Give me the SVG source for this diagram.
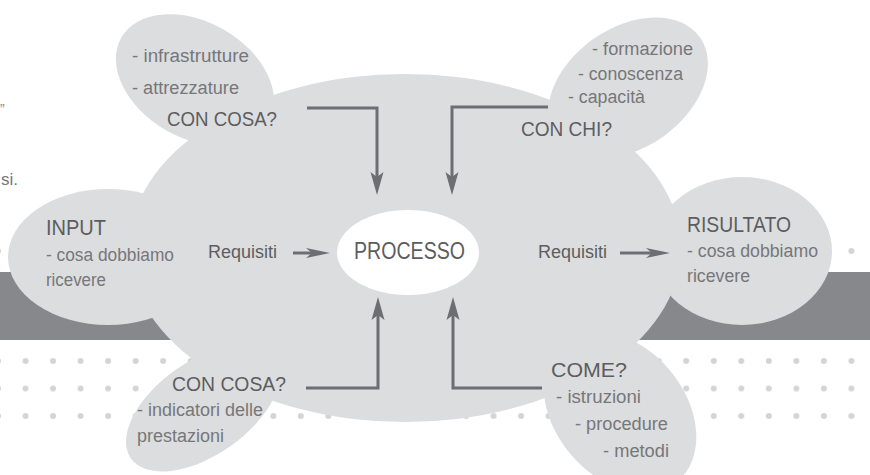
<svg xmlns="http://www.w3.org/2000/svg" width="870" height="475" viewBox="0 0 870 475">
<style>
text{font-family:"Liberation Sans",Arial,sans-serif}
.g{fill:#dcdddf}
.h{font-size:20.5px;fill:#5c5d60}
.i{font-size:18px;fill:#76777a}
.r{font-size:18px;fill:#5c5d60}
.p{font-size:23px;fill:#5c5d60}
.c{fill:none;stroke:#6d6e71;stroke-width:3}
</style>
<defs>
<pattern id="dots" patternUnits="userSpaceOnUse" x="-15.76" y="237.25" width="27.53" height="27.5">
<circle cx="13.76" cy="13.75" r="3" fill="#d3d4d6"/>
</pattern>
<marker id="av" viewBox="-24 -7 25 14" refX="-18" refY="0" markerWidth="25" markerHeight="14" markerUnits="userSpaceOnUse" orient="auto">
<path d="M0,0 L-23,-6.5 L-18,0 L-23,6.5 Z" fill="#6d6e71"/>
</marker>
<marker id="as" viewBox="-24 -6 25 12" refX="-18" refY="0" markerWidth="25" markerHeight="12" markerUnits="userSpaceOnUse" orient="auto">
<path d="M0,0 L-24,-5 L-18,0 L-24,5 Z" fill="#6d6e71"/>
</marker>
</defs>
<rect width="870" height="475" fill="#ffffff"/>
<g id="background">
<rect x="0" y="272" width="870" height="68" fill="#87888c"/>
<rect x="0" y="245" width="870" height="12" fill="url(#dots)"/>
<rect x="0" y="355" width="870" height="69" fill="url(#dots)"/>
<text x="0" y="114" style="font-size:14px;fill:#8a8b8e">”</text>
<text x="1" y="185" style="font-size:17px;fill:#76777a">si.</text>
</g>
<g id="processo-area">
<ellipse class="g" cx="405" cy="248" rx="276" ry="174"/>
</g>
<g id="con-cosa-top">
<ellipse class="g" cx="195" cy="80" rx="85" ry="58" transform="rotate(30 195 80)"/>
<text class="i" x="132" y="62" textLength="117" lengthAdjust="spacingAndGlyphs">- infrastrutture</text>
<text class="i" x="132" y="94" textLength="107" lengthAdjust="spacingAndGlyphs">- attrezzature</text>
<text class="h" x="167" y="126" textLength="110" lengthAdjust="spacingAndGlyphs">CON COSA?</text>
</g>
<g id="con-chi">
<ellipse class="g" cx="628" cy="88" rx="88" ry="60" transform="rotate(-35 628 88)"/>
<text class="i" x="592" y="55" textLength="101" lengthAdjust="spacingAndGlyphs">- formazione</text>
<text class="i" x="578" y="80" textLength="105" lengthAdjust="spacingAndGlyphs">- conoscenza</text>
<text class="i" x="568" y="103" textLength="77" lengthAdjust="spacingAndGlyphs">- capacità</text>
<text class="h" x="521" y="136" textLength="91" lengthAdjust="spacingAndGlyphs">CON CHI?</text>
</g>
<g id="input">
<ellipse class="g" cx="108" cy="257" rx="100" ry="68"/>
<text class="h" x="46" y="235" textLength="60" lengthAdjust="spacingAndGlyphs" style="font-size:21.5px">INPUT</text>
<text class="i" x="46" y="261" textLength="128" lengthAdjust="spacingAndGlyphs">- cosa dobbiamo</text>
<text class="i" x="46" y="286" textLength="60" lengthAdjust="spacingAndGlyphs">ricevere</text>
</g>
<g id="risultato">
<ellipse class="g" cx="742" cy="251" rx="90" ry="74"/>
<text class="h" x="687" y="232" textLength="104" lengthAdjust="spacingAndGlyphs" style="font-size:21.5px">RISULTATO</text>
<text class="i" x="687" y="257" textLength="131" lengthAdjust="spacingAndGlyphs">- cosa dobbiamo</text>
<text class="i" x="687" y="282" textLength="63" lengthAdjust="spacingAndGlyphs">ricevere</text>
</g>
<g id="con-cosa-bottom">
<ellipse class="g" cx="203" cy="408" rx="88" ry="47" transform="rotate(-35 203 408)"/>
<text class="h" x="172" y="391" textLength="114" lengthAdjust="spacingAndGlyphs">CON COSA?</text>
<text class="i" x="137" y="416" textLength="126" lengthAdjust="spacingAndGlyphs">- indicatori delle</text>
<text class="i" x="137" y="442" textLength="87" lengthAdjust="spacingAndGlyphs">prestazioni</text>
</g>
<g id="come">
<ellipse class="g" cx="620" cy="412" rx="90" ry="65" transform="rotate(50 620 412)"/>
<text class="h" x="551" y="377" textLength="76" lengthAdjust="spacingAndGlyphs">COME?</text>
<text class="i" x="556" y="403" textLength="85" lengthAdjust="spacingAndGlyphs">- istruzioni</text>
<text class="i" x="575" y="430" textLength="93" lengthAdjust="spacingAndGlyphs">- procedure</text>
<text class="i" x="603" y="457" textLength="66" lengthAdjust="spacingAndGlyphs">- metodi</text>
</g>
<g id="processo">
<ellipse cx="408" cy="252.5" rx="71" ry="42.5" fill="#ffffff"/>
<text class="p" x="354" y="259" textLength="111" lengthAdjust="spacingAndGlyphs">PROCESSO</text>
</g>
<g id="connectors">
<path class="c" d="M307,108 H377 V177" marker-end="url(#av)"/>
<path class="c" d="M548,107 H452 V177" marker-end="url(#av)"/>
<path class="c" d="M306,388 H378 V315" marker-end="url(#av)"/>
<path class="c" d="M542,388 H453 V315" marker-end="url(#av)"/>
<path class="c" d="M293,253 H312" marker-end="url(#as)"/>
<path class="c" d="M620,253 H652" marker-end="url(#as)"/>
<text class="r" x="208" y="258" textLength="69" lengthAdjust="spacingAndGlyphs">Requisiti</text>
<text class="r" x="538" y="258" textLength="69" lengthAdjust="spacingAndGlyphs">Requisiti</text>
</g>
</svg>
